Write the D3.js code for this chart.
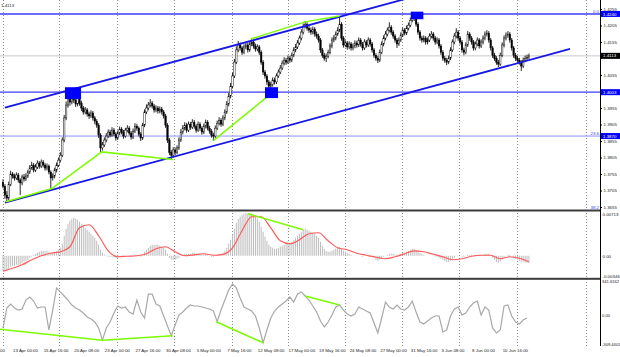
<!DOCTYPE html>
<html><head><meta charset="utf-8">
<script src="https://cdn.jsdelivr.net/npm/d3@7"></script>
<style>
html,body{margin:0;padding:0;background:#fff;}
svg{display:block;}
text{font-family:"Liberation Sans",Arial,sans-serif;}
</style></head><body>
<svg id="c" width="620" height="357"></svg>
<script>
// ---------- DATA (GBP/USD H4) ----------
const firstOpen = 1.3730;
const closes = [
1.3718,1.3691,1.3682,1.3724,1.3755,1.3749,1.3743,1.3752,1.3737,1.3728,
1.3746,1.3740,1.3749,1.3761,1.3773,1.3782,1.3767,1.3776,1.3788,1.3779,
1.3791,1.3782,1.3773,1.3779,1.3761,1.3743,1.3749,1.3767,1.3782,1.3797,
1.3812,1.3858,1.3925,1.3964,1.3985,1.3973,1.3991,1.3979,1.3967,1.3985,
1.3970,1.3955,1.3943,1.3949,1.3937,1.3931,1.3940,1.3925,1.3915,1.3903,
1.3873,1.3834,1.3843,1.3858,1.3870,1.3882,1.3873,1.3888,1.3876,1.3864,
1.3879,1.3891,1.3882,1.3870,1.3888,1.3894,1.3879,1.3867,1.3885,1.3900,
1.3894,1.3876,1.3864,1.3903,1.3943,1.3955,1.3964,1.3970,1.3961,1.3949,
1.3955,1.3946,1.3952,1.3943,1.3931,1.3903,1.3858,1.3821,1.3812,1.3828,
1.3821,1.3834,1.3858,1.3882,1.3894,1.3903,1.3888,1.3906,1.3897,1.3912,
1.3900,1.3888,1.3906,1.3894,1.3882,1.3900,1.3912,1.3894,1.3885,1.3873,
1.3870,1.3894,1.3909,1.3918,1.3906,1.3925,1.3943,1.3967,1.3991,1.4021,
1.4052,1.4094,1.4131,1.4146,1.4137,1.4124,1.4140,1.4146,1.4131,1.4149,
1.4155,1.4143,1.4134,1.4140,1.4124,1.4094,1.4064,1.4052,1.4034,1.4021,
1.4027,1.4040,1.4034,1.4052,1.4064,1.4076,1.4091,1.4100,1.4094,1.4106,
1.4100,1.4115,1.4131,1.4140,1.4152,1.4167,1.4185,1.4203,1.4209,1.4197,
1.4191,1.4185,1.4194,1.4179,1.4173,1.4161,1.4131,1.4115,1.4106,1.4112,
1.4124,1.4143,1.4161,1.4167,1.4179,1.4191,1.4209,1.4167,1.4146,1.4152,
1.4140,1.4149,1.4137,1.4143,1.4152,1.4146,1.4161,1.4149,1.4137,1.4155,
1.4146,1.4161,1.4149,1.4131,1.4115,1.4106,1.4100,1.4124,1.4149,1.4167,
1.4179,1.4191,1.4200,1.4185,1.4173,1.4161,1.4149,1.4161,1.4176,1.4191,
1.4182,1.4197,1.4206,1.4221,1.4234,1.4227,1.4209,1.4185,1.4167,1.4161,
1.4167,1.4155,1.4161,1.4173,1.4179,1.4167,1.4155,1.4161,1.4143,1.4124,
1.4106,1.4100,1.4094,1.4106,1.4131,1.4155,1.4173,1.4185,1.4167,1.4155,
1.4131,1.4124,1.4146,1.4179,1.4167,1.4155,1.4137,1.4149,1.4161,1.4143,
1.4155,1.4167,1.4179,1.4182,1.4161,1.4137,1.4115,1.4106,1.4094,1.4088,
1.4115,1.4146,1.4167,1.4176,1.4179,1.4161,1.4137,1.4115,1.4106,1.4100,
1.4094,1.4082,1.4100,1.4106,1.4109,1.4113];
const highs = [
1.3739,1.3724,1.3703,1.3732,1.3765,1.3761,1.3756,1.3760,1.3758,1.3742,
1.3753,1.3755,1.3757,1.3768,1.3782,1.3792,1.3788,1.3785,1.3796,1.3794,
1.3799,1.3797,1.3788,1.3787,1.3784,1.3766,1.3757,1.3774,1.3790,1.3805,
1.3821,1.3866,1.3934,1.3975,1.3998,1.3994,1.4015,1.4001,1.3986,1.4012,
1.3994,1.3977,1.3961,1.3958,1.3955,1.3944,1.3948,1.3946,1.3931,1.3921,
1.3909,1.3879,1.3852,1.3866,1.3879,1.3890,1.3889,1.3897,1.3894,1.3882,
1.3887,1.3899,1.3897,1.3888,1.3895,1.3903,1.3900,1.3885,1.3893,1.3909,
1.3907,1.3899,1.3882,1.3910,1.3951,1.3966,1.3973,1.3982,1.3976,1.3967,
1.3963,1.3961,1.3960,1.3958,1.3949,1.3937,1.3909,1.3864,1.3828,1.3836,
1.3835,1.3842,1.3866,1.3891,1.3903,1.3912,1.3910,1.3914,1.3913,1.3921,
1.3919,1.3906,1.3914,1.3912,1.3900,1.3908,1.3920,1.3918,1.3901,1.3891,
1.3880,1.3902,1.3917,1.3927,1.3924,1.3933,1.3951,1.3976,1.4000,1.4031,
1.4062,1.4104,1.4142,1.4158,1.4153,1.4143,1.4148,1.4155,1.4152,1.4157,
1.4164,1.4161,1.4150,1.4148,1.4146,1.4130,1.4100,1.4070,1.4058,1.4040,
1.4035,1.4048,1.4047,1.4060,1.4072,1.4085,1.4099,1.4109,1.4107,1.4114,
1.4113,1.4123,1.4139,1.4149,1.4161,1.4175,1.4194,1.4211,1.4218,1.4215,
1.4204,1.4199,1.4202,1.4200,1.4187,1.4180,1.4167,1.4137,1.4122,1.4120,
1.4132,1.4151,1.4169,1.4176,1.4187,1.4200,1.4234,1.4215,1.4173,1.4160,
1.4158,1.4157,1.4155,1.4151,1.4160,1.4159,1.4169,1.4167,1.4155,1.4163,
1.4161,1.4169,1.4167,1.4155,1.4137,1.4121,1.4113,1.4132,1.4157,1.4175,
1.4188,1.4199,1.4215,1.4206,1.4191,1.4179,1.4167,1.4169,1.4184,1.4199,
1.4197,1.4205,1.4214,1.4229,1.4246,1.4241,1.4233,1.4215,1.4191,1.4174,
1.4175,1.4173,1.4169,1.4181,1.4188,1.4185,1.4173,1.4169,1.4167,1.4149,
1.4130,1.4113,1.4107,1.4114,1.4139,1.4163,1.4182,1.4197,1.4191,1.4173,
1.4161,1.4138,1.4154,1.4188,1.4185,1.4173,1.4161,1.4157,1.4169,1.4167,
1.4163,1.4175,1.4187,1.4191,1.4188,1.4167,1.4143,1.4122,1.4112,1.4101,
1.4123,1.4154,1.4175,1.4184,1.4188,1.4185,1.4167,1.4143,1.4122,1.4113,
1.4107,1.4100,1.4108,1.4114,1.4117,1.4120];
const lows = [
1.3711,1.3680,1.3670,1.3676,1.3718,1.3741,1.3735,1.3737,1.3729,1.3691,
1.3721,1.3732,1.3734,1.3743,1.3755,1.3768,1.3760,1.3761,1.3770,1.3771,
1.3773,1.3775,1.3765,1.3766,1.3754,1.3712,1.3735,1.3742,1.3760,1.3776,
1.3790,1.3806,1.3851,1.3918,1.3956,1.3962,1.3966,1.3970,1.3958,1.3960,
1.3962,1.3946,1.3935,1.3936,1.3929,1.3922,1.3925,1.3917,1.3906,1.3895,
1.3864,1.3819,1.3826,1.3837,1.3851,1.3864,1.3866,1.3868,1.3870,1.3856,
1.3858,1.3873,1.3875,1.3862,1.3865,1.3881,1.3872,1.3859,1.3861,1.3879,
1.3886,1.3869,1.3855,1.3858,1.3897,1.3937,1.3948,1.3957,1.3953,1.3941,
1.3942,1.3938,1.3939,1.3935,1.3923,1.3895,1.3849,1.3812,1.3797,1.3805,
1.3812,1.3815,1.3828,1.3852,1.3875,1.3887,1.3880,1.3882,1.3889,1.3891,
1.3892,1.3880,1.3882,1.3886,1.3874,1.3876,1.3893,1.3887,1.3877,1.3865,
1.3855,1.3864,1.3888,1.3902,1.3898,1.3900,1.3918,1.3937,1.3960,1.3984,
1.4014,1.4046,1.4088,1.4124,1.4129,1.4116,1.4118,1.4133,1.4123,1.4125,
1.4142,1.4135,1.4126,1.4127,1.4116,1.4086,1.4055,1.4044,1.4025,1.4009,
1.4013,1.4020,1.4026,1.4028,1.4046,1.4058,1.4070,1.4084,1.4086,1.4088,
1.4092,1.4094,1.4109,1.4124,1.4134,1.4146,1.4160,1.4178,1.4196,1.4189,
1.4183,1.4177,1.4178,1.4171,1.4165,1.4153,1.4122,1.4107,1.4098,1.4094,
1.4106,1.4118,1.4136,1.4154,1.4160,1.4173,1.4185,1.4159,1.4138,1.4139,
1.4132,1.4133,1.4129,1.4130,1.4136,1.4138,1.4140,1.4141,1.4129,1.4131,
1.4138,1.4140,1.4141,1.4123,1.4107,1.4098,1.4091,1.4094,1.4118,1.4142,
1.4160,1.4172,1.4184,1.4177,1.4165,1.4153,1.4137,1.4143,1.4155,1.4170,
1.4175,1.4176,1.4190,1.4200,1.4215,1.4219,1.4201,1.4177,1.4159,1.4153,
1.4154,1.4147,1.4148,1.4155,1.4166,1.4159,1.4147,1.4148,1.4135,1.4116,
1.4098,1.4092,1.4085,1.4088,1.4100,1.4125,1.4148,1.4166,1.4159,1.4147,
1.4123,1.4115,1.4118,1.4140,1.4159,1.4147,1.4129,1.4130,1.4142,1.4135,
1.4137,1.4148,1.4160,1.4172,1.4153,1.4129,1.4107,1.4098,1.4086,1.4079,
1.4082,1.4109,1.4139,1.4160,1.4168,1.4153,1.4129,1.4107,1.4098,1.4092,
1.4086,1.4067,1.4076,1.4094,1.4100,1.4103];

const macdMain = [
-0.00245,-0.00245,-0.00245,-0.00212,-0.00179,-0.00163,-0.00163,-0.00147,-0.00147,-0.00147,
-0.00114,-0.00098,-0.00081,-0.00065,-0.00033,-0.00016,0.00016,0.00033,0.00049,0.00065,
0.00081,0.00081,0.00081,0.00081,0.00065,0.00049,0.00049,0.00065,0.00081,0.00098,
0.0013,0.00196,0.00326,0.0044,0.00522,0.00571,0.00603,0.00619,0.00603,0.00587,
0.00554,0.00522,0.00489,0.00456,0.00424,0.00391,0.00359,0.00326,0.00293,0.00245,
0.00179,0.00098,0.00049,0.00016,0,-0.00016,-0.00016,-0.00016,-0.00016,-0.00033,
-0.00033,-0.00016,-0.00016,-0.00016,0,0,0,-0.00016,0,0.00016,
0.00016,0,-0.00016,0.00016,0.00065,0.00098,0.0013,0.00163,0.00179,0.00179,
0.00179,0.00179,0.00163,0.00147,0.0013,0.00098,0.00033,-0.00033,-0.00065,-0.00065,
-0.00065,-0.00049,-0.00033,0,0.00016,0.00033,0.00033,0.00033,0.00033,0.00049,
0.00049,0.00033,0.00033,0.00033,0.00016,0.00016,0.00033,0.00016,0,-0.00016,
-0.00016,0,0.00016,0.00033,0.00033,0.00049,0.00081,0.0013,0.00196,0.00261,
0.00342,0.0044,0.00538,0.00603,0.00636,0.00668,0.00685,0.00701,0.00685,0.00685,
0.00685,0.00668,0.00636,0.00603,0.00554,0.00473,0.00391,0.0031,0.00245,0.00179,
0.00147,0.0013,0.00114,0.00114,0.0013,0.00147,0.00163,0.00179,0.00196,0.00212,
0.00212,0.00228,0.00261,0.00293,0.00326,0.00359,0.00391,0.00424,0.0044,0.00424,
0.00408,0.00391,0.00375,0.00359,0.00326,0.00293,0.00228,0.00163,0.00114,0.00081,
0.00065,0.00065,0.00081,0.00098,0.00114,0.0013,0.00147,0.00114,0.00081,0.00065,
0.00049,0.00033,0.00016,0,0,0,0,0,-0.00016,0,
0,0,0,-0.00016,-0.00033,-0.00065,-0.00081,-0.00065,-0.00049,-0.00016,
0,0.00016,0.00033,0.00033,0.00033,0.00016,0.00016,0.00016,0.00033,0.00049,
0.00049,0.00065,0.00081,0.00098,0.00114,0.00114,0.00098,0.00081,0.00049,0.00033,
0.00016,0,0,0,0,0,-0.00016,-0.00016,-0.00033,-0.00049,
-0.00065,-0.00081,-0.00098,-0.00098,-0.00081,-0.00049,-0.00033,0,0,0,
-0.00016,-0.00016,0,0.00016,0.00016,0.00016,0.00016,0.00016,0.00016,0.00016,
0.00016,0.00016,0.00033,0.00033,0.00033,0,-0.00033,-0.00065,-0.00098,-0.00114,
-0.00098,-0.00065,-0.00033,0,0.00016,0.00016,0,-0.00033,-0.00049,-0.00065,
-0.00081,-0.00098,-0.00098,-0.00114,-0.00114,-0.00114];
// signal line, one value every 5 bars
const signalStep = 5;
const macdSignal = [-0.00253,-0.00204,-0.00147,-0.00065,0,0.00041,0.00065,0.00147,0.00456,0.00505,
0.00326,0.00081,-0.00016,-0.00008,0,0.00033,0.00114,0.00147,0.00065,0,
0.00016,0.00033,0.00008,0.00024,0.0013,0.00408,0.00636,0.00636,0.00456,0.00245,
0.00196,0.00261,0.00359,0.00375,0.00245,0.0013,0.00098,0.00041,0.00008,-0.00024,
-0.00049,-0.00016,0.00033,0.00081,0.00065,0.00024,-0.00016,-0.00065,-0.00049,-0.00008,
0.00008,0.00008,-0.00049,-0.00016,-0.00041,-0.00098];
// CCI, one value every 2 bars
const cciStep = 2;
const cci = [-140,61,101,61,41,51,141,171,131,61,
71,71,-159,41,262,221,181,141,91,61,
41,11,-29,-49,-79,-139,-260,-139,-79,11,
81,61,71,21,1,141,21,-39,201,201,
101,81,-19,-119,-216,-109,-9,21,61,91,
81,81,71,61,51,31,-76,41,141,241,
302,262,161,71,51,31,-19,-139,-287,-159,
-39,31,71,101,131,171,121,201,221,181,
141,81,21,-69,-129,-79,-9,71,91,41,
1,-19,1,71,51,31,11,-89,-189,-39,
121,71,51,91,51,41,71,131,21,-79,
-99,-69,-39,-19,-19,-179,-159,-19,51,71,
-9,11,71,111,131,-9,71,41,-139,-189,
-159,81,91,-19,-79,-99,-59,-39];

const priceTicks = [1.4255,1.4205,1.4155,1.4055,1.3955,1.3905,1.3855,1.3805,1.3755,1.3705,1.3655];
const macdTicks = [0.00713,0,-0.00346];
const macdTickLabels = ["0.00713","0.00","-0.00346"];
const cciTicks = [341.6162,0,-309.4401];
const cciTickLabels = ["341.6162","0.00","-309.4401"];
const timeLabels = ["8 Apr 08:00","13 Apr 00:00","15 Apr 16:00","20 Apr 08:00","23 Apr 00:00","27 Apr 16:00",
"30 Apr 08:00","5 May 00:00","7 May 16:00","12 May 08:00","17 May 00:00","19 May 16:00","24 May 08:00",
"27 May 00:00","31 May 16:00","3 Jun 08:00","8 Jun 00:00","10 Jun 16:00"];
const timeLabelBars = [-11,5,21,37,53,69,85,101,117,133,149,165,181,197,213,229,245,261];
const gridBars = [0,29.5,59.5,89.5,119.5,149.2,178.8,208.8,238.6,269,304.7];

const currentPrice = 1.4113;
const levelPrices = [1.4240,1.4003,1.3870];
const fibLabels = ["0.0","23.6","38.2"];
const fibPrices = [1.4240,1.3870,1.3641];
const tagPrices = [1.4240,1.4113,1.4003,1.3870];
// trend channel (bar, price)
const channel = [[[1,1.3668],[296.5,1.4134]],[[1,1.3956],[212,1.4288]]];
// green divergence lines
const priceGreen = [[[1.6,1.3671],[25.6,1.3711],[51.6,1.3822],[89,1.3799]],
                    [[110,1.3856],[140.5,1.4000]],
                    [[129.5,1.4164],[158,1.4216],[176,1.4234]]];
const macdGreen = [[[128,0.00685],[157,0.00424]]];
const cciGreen = [[[-1.6,-152],[52,-262],[88.7,-216]],[[111.5,-76],[136,-287]],[[158,181],[176,91]]];
// blue marker boxes: [bar0, bar1, priceTop, priceBottom]
const boxes = [[32.4,40.8,1.4018,1.3982],[137,143.8,1.4018,1.3985],[213.2,219.8,1.4247,1.4224]];

// ---------- DRAW ----------
const svg = d3.select("#c");
svg.append("rect").attr("width",620).attr("height",357).attr("fill","#fff");
const x = d3.scaleLinear().domain([0,100]).range([3,194.25]);
const yP = d3.scaleLinear().domain([1.36459,1.42823]).range([210,0]);
const yM = d3.scaleLinear().domain([-0.00346,0.00713]).range([277,212]);
const yC = d3.scaleLinear().domain([-309.4401,341.6162]).range([345,280]);

const defs = svg.append("defs");
[["cp",0,0,600,209.5],["cm",0,211.5,600,66.3],["cc",0,279.8,600,66]].forEach(([id,a,b,w,h])=>{
  defs.append("clipPath").attr("id",id).append("rect").attr("x",a).attr("y",b).attr("width",w).attr("height",h);
});

// grid
svg.append("g").selectAll("line").data(gridBars).join("line")
  .attr("x1",d=>Math.round(x(d))+0.5).attr("x2",d=>Math.round(x(d))+0.5)
  .attr("y1",0).attr("y2",346).attr("stroke","#8a8a8a").attr("stroke-width",1).attr("stroke-dasharray","1,2");

const gP = svg.append("g").attr("clip-path","url(#cp)");
gP.append("line").attr("x1",0).attr("x2",600).attr("y1",yP(currentPrice)).attr("y2",yP(currentPrice))
  .attr("stroke","#c8c8c8").attr("stroke-width",1);
gP.selectAll("line.lvl").data(levelPrices).join("line").attr("class","lvl")
  .attr("x1",0).attr("x2",600).attr("y1",d=>yP(d)).attr("y2",d=>yP(d))
  .attr("stroke",(d,i)=>i<2?"#3b3bff":"#8e8eff").attr("stroke-width",(d,i)=>i<2?1.4:1);

// candles
const bars = closes.map((c,i)=>({i,o:i?closes[i-1]:firstOpen,h:highs[i],l:lows[i],c}));
gP.selectAll("line.wick").data(bars).join("line").attr("class","wick")
  .attr("x1",d=>x(d.i)).attr("x2",d=>x(d.i)).attr("y1",d=>yP(d.h)).attr("y2",d=>yP(d.l))
  .attr("stroke","#000").attr("stroke-width",0.85);
gP.selectAll("rect.body").data(bars).join("rect").attr("class","body")
  .attr("x",d=>x(d.i)-0.75).attr("width",1.5)
  .attr("y",d=>yP(Math.max(d.o,d.c)))
  .attr("height",d=>Math.max(0.6,Math.abs(yP(d.o)-yP(d.c))))
  .attr("fill",d=>d.c>=d.o?"#fff":"#000").attr("stroke","#000").attr("stroke-width",0.45);

const lineP = d3.line().x(d=>x(d[0])).y(d=>yP(d[1]));
gP.selectAll("path.ch").data(channel).join("path").attr("class","ch")
  .attr("d",lineP).attr("fill","none").attr("stroke","#1616e6").attr("stroke-width",1.8);
gP.selectAll("path.gr").data(priceGreen).join("path").attr("class","gr")
  .attr("d",lineP).attr("fill","none").attr("stroke","#7cfc00").attr("stroke-width",1.5);
gP.selectAll("rect.box").data(boxes).join("rect").attr("class","box")
  .attr("x",d=>x(d[0])).attr("width",d=>x(d[1])-x(d[0]))
  .attr("y",d=>yP(d[2])).attr("height",d=>yP(d[3])-yP(d[2]))
  .attr("fill","#0000ff");

// MACD panel
const gM = svg.append("g").attr("clip-path","url(#cm)");
gM.selectAll("line").data(macdMain).join("line")
  .attr("x1",(d,i)=>x(i)).attr("x2",(d,i)=>x(i)).attr("y1",yM(0)).attr("y2",d=>yM(d))
  .attr("stroke","#bdbdbd").attr("stroke-width",1);
gM.append("path").datum(macdSignal)
  .attr("d",d3.line().x((d,k)=>x(k*signalStep)).y(d=>yM(d)).curve(d3.curveMonotoneX))
  .attr("fill","none").attr("stroke","#ff5a5a").attr("stroke-width",1.2);
gM.selectAll("path.gr").data(macdGreen).join("path").attr("class","gr")
  .attr("d",d3.line().x(d=>x(d[0])).y(d=>yM(d[1]))).attr("fill","none").attr("stroke","#7cfc00").attr("stroke-width",1.5);

// CCI panel
const gC = svg.append("g").attr("clip-path","url(#cc)");
gC.append("path").datum(cci)
  .attr("d",d3.line().x((d,k)=>x(k*cciStep)).y(d=>yC(d)))
  .attr("fill","none").attr("stroke","#a8a8a8").attr("stroke-width",1.2);
gC.selectAll("path.gr").data(cciGreen).join("path").attr("class","gr")
  .attr("d",d3.line().x(d=>x(d[0])).y(d=>yC(d[1]))).attr("fill","none").attr("stroke","#7cfc00").attr("stroke-width",1.5);

// separators
[209.5,277.8].forEach(yy=>svg.append("rect").attr("x",0).attr("y",yy).attr("width",600).attr("height",2).attr("fill","#3c3c3c"));

// fib labels
svg.selectAll("text.fib").data(fibPrices).join("text").attr("class","fib")
  .attr("x",599).attr("y",(d,i)=>Math.min(yP(d)-1.3,209)).attr("text-anchor","end")
  .attr("font-size",4.4).attr("fill","#3b3bff").text((d,i)=>fibLabels[i]);

// right axis line
svg.append("line").attr("x1",600.5).attr("x2",600.5).attr("y1",0).attr("y2",346).attr("stroke","#000").attr("stroke-width",1);

function styleAxis(g,fs){
  g.select(".domain").remove();
  g.selectAll(".tick line").attr("stroke","#000");
  g.selectAll(".tick text").attr("font-size",fs||4.4).attr("fill","#222").attr("font-family","Liberation Sans, Arial, sans-serif");
}
const aP = svg.append("g").attr("transform","translate(600.5,0)")
  .call(d3.axisRight(yP).tickValues(priceTicks).tickSize(1.5).tickPadding(1.5).tickFormat(d3.format(".4f")));
styleAxis(aP);

const aM = svg.append("g").attr("transform","translate(600.5,0)")
  .call(d3.axisRight(yM).tickValues(macdTicks).tickSize(0).tickPadding(2).tickFormat((d,i)=>macdTickLabels[i]));
styleAxis(aM);
aM.selectAll(".tick text").attr("dy",(d,i)=>[ "0.9em","0.5em","0.0em"][i]);

const aC = svg.append("g").attr("transform","translate(600.5,0)")
  .call(d3.axisRight(yC).tickValues(cciTicks).tickSize(0).tickPadding(1.5).tickFormat((d,i)=>cciTickLabels[i]));
styleAxis(aC,4.1);
aC.selectAll(".tick text").attr("dy",(d,i)=>[ "0.55em","0.5em","0.1em"][i]);

// price tags
const tg = svg.append("g").selectAll("g").data(tagPrices).join("g");
tg.append("rect").attr("x",601).attr("width",19).attr("y",d=>yP(d)-3).attr("height",6)
  .attr("fill",d=>d===currentPrice?"#000":"#0000ff");
tg.append("text").attr("x",603).attr("y",d=>yP(d)+1.6).attr("font-size",4.4).attr("fill","#fff")
  .text(d=>d3.format(".4f")(d));

// time axis
const aT = svg.append("g").attr("transform","translate(0,346)")
  .call(d3.axisBottom(x).tickValues(timeLabelBars).tickSize(0).tickFormat((d,i)=>timeLabels[i]));
aT.select(".domain").remove();
aT.selectAll(".tick text").attr("text-anchor","start").attr("y",6).attr("dy",null)
  .attr("font-size",4.4).attr("fill","#222").attr("font-family","Liberation Sans, Arial, sans-serif");

// top-left price
svg.append("text").attr("x",1).attr("y",6.5).attr("font-size",4.4).attr("fill","#222").text("1.4113");
</script>
</body></html>
